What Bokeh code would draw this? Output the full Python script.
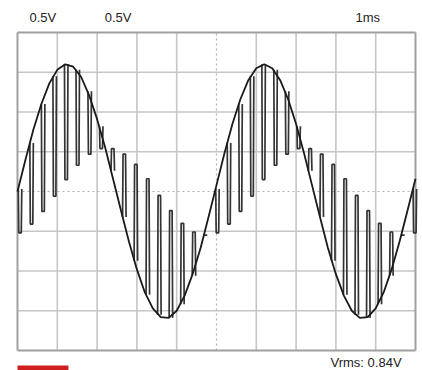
from bokeh.plotting import figure
from bokeh.models import Range1d, Label
from bokeh.embed import file_html
from bokeh.resources import INLINE

# ---- data (1 ms/div, 0.5 V/div) ----
time_ms = [0.0, 0.2, 0.4, 0.6, 0.8, 1.0, 1.2, 1.4, 1.6, 1.8, 2.0, 2.2, 2.4, 2.6, 2.8,
           3.0, 3.2, 3.4, 3.6, 3.8, 4.0, 4.2, 4.4, 4.6, 4.8, 5.0, 5.2, 5.4, 5.6, 5.8,
           6.0, 6.2, 6.4, 6.6, 6.8, 7.0, 7.2, 7.4, 7.6, 7.8, 8.0, 8.2, 8.4, 8.6, 8.8,
           9.0, 9.2, 9.4, 9.6, 9.8, 10.0]
sine_v = [0.00, 0.40, 0.78, 1.10, 1.36, 1.53, 1.60, 1.57, 1.44, 1.21, 0.91, 0.56, 0.16,
          -0.24, -0.63, -0.98, -1.27, -1.47, -1.58, -1.59, -1.50, -1.31, -1.04, -0.71, -0.32,
          0.08, 0.48, 0.85, 1.16, 1.40, 1.55, 1.60, 1.55, 1.40, 1.16, 0.85, 0.48, 0.08,
          -0.32, -0.71, -1.04, -1.31, -1.50, -1.59, -1.58, -1.47, -1.27, -0.98, -0.63, -0.24, 0.16]

pulse_t = [0.02, 0.31, 0.60, 0.89, 1.18, 1.47, 1.77, 2.06, 2.35, 2.64, 2.93, 3.23,
           3.52, 3.81, 4.10, 4.39, 4.68, 4.98, 5.27, 5.56, 5.85, 6.14, 6.44, 6.73,
           7.02, 7.31, 7.60, 7.89, 8.19, 8.48, 8.77, 9.06, 9.35, 9.64, 9.94]
pulse_base = [0.03, 0.61, 1.10, 1.45, 1.60, 1.53, 1.26, 0.82, 0.26, -0.32, -0.87, -1.30,
              -1.55, -1.59, -1.42, -1.06, -0.55,
              0.03, 0.61, 1.10, 1.45, 1.60, 1.53, 1.26, 0.82, 0.26, -0.32, -0.87, -1.30,
              -1.55, -1.59, -1.42, -1.06, -0.55, 0.03]
pulse_peak = [-0.52, -0.41, -0.25, -0.06, 0.15, 0.33, 0.47, 0.54, 0.54, 0.47, 0.34, 0.16,
              -0.05, -0.24, -0.40, -0.51, -0.55,
              -0.52, -0.41, -0.25, -0.06, 0.15, 0.33, 0.47, 0.54, 0.54, 0.47, 0.34, 0.16,
              -0.05, -0.24, -0.40, -0.51, -0.55, -0.52]

div_t = [0, 1, 2, 3, 4, 5, 6, 7, 8, 9, 10]
div_v = [-2.0, -1.5, -1.0, -0.5, 0.0, 0.5, 1.0, 1.5, 2.0]

ch1_text = "0.5V"
ch2_text = "0.5V"
time_text = "1ms"
vrms_text = "Vrms: 0.84V"

# ---- figure ----
p = figure(width=422, height=370,
           x_range=Range1d(-0.427, 10.176), y_range=Range1d(-2.252, 2.4025),
           output_backend="svg", toolbar_location=None,
           x_axis_location=None, y_axis_location=None,
           min_border=0, outline_line_color=None,
           background_fill_color="white", border_fill_color="white")
p.grid.visible = False

t_lo, t_hi = min(div_t), max(div_t)
v_lo, v_hi = min(div_v), max(div_v)
t_mid = div_t[len(div_t) // 2]
v_mid = div_v[len(div_v) // 2]

inner_t = [t for t in div_t if t not in (t_lo, t_hi, t_mid)]
inner_v = [v for v in div_v if v not in (v_lo, v_hi, v_mid)]

grid_col = "#c6c6c6"
p.segment(x0=inner_t, x1=inner_t, y0=[v_lo] * len(inner_t), y1=[v_hi] * len(inner_t),
          line_color=grid_col, line_width=1.6)
p.segment(x0=[t_lo] * len(inner_v), x1=[t_hi] * len(inner_v), y0=inner_v, y1=inner_v,
          line_color=grid_col, line_width=1.6)
# centre lines (dotted)
p.segment(x0=[t_mid], x1=[t_mid], y0=[v_lo], y1=[v_hi],
          line_color="#b0b0b0", line_width=1.2, line_dash="2 3")
p.segment(x0=[t_lo], x1=[t_hi], y0=[v_mid], y1=[v_mid],
          line_color="#b0b0b0", line_width=1.2, line_dash="2 3")
# frame
p.segment(x0=[t_lo, t_hi, t_lo, t_lo], x1=[t_lo, t_hi, t_hi, t_hi],
          y0=[v_lo, v_lo, v_lo, v_hi], y1=[v_hi, v_hi, v_lo, v_hi],
          line_color="#a0a0a0", line_width=2)

# chopped waveform pulses
w_rise, w_top, w_fall = 0.012, 0.075, 0.088
xs = [[t, t + w_rise, t + w_top, t + w_fall] for t in pulse_t]
ys = [[b, pk, pk, b] for b, pk in zip(pulse_base, pulse_peak)]
p.multi_line(xs, ys, line_color="#333333", line_width=1.7)

# sine trace
p.line(time_ms, sine_v, line_color="#1a1a1a", line_width=1.8)

# red logo block (cut by the page edge)
p.quad(left=[t_lo], right=[t_lo + 1.28], top=[v_lo - 0.19], bottom=[v_lo - 0.45],
       fill_color="#d01f1f", line_color=None)

font = "Liberation Sans"
for x, txt in ((0.30, ch1_text), (2.19, ch2_text), (8.49, time_text)):
    p.add_layout(Label(x=x, y=2.19, text=txt, text_baseline="middle",
                       text_font=font, text_font_size="13px", text_color="#222222"))
p.add_layout(Label(x=9.65, y=-2.15, text=vrms_text, text_align="right",
                   text_baseline="middle", text_font=font, text_font_size="13px",
                   text_color="#222222"))

open("out.html", "w").write(file_html(p, INLINE))
